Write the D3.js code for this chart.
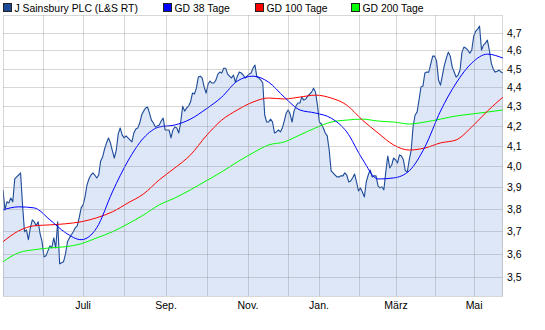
<!DOCTYPE html>
<html><head><meta charset="utf-8">
<script src="https://cdn.jsdelivr.net/npm/d3@7"></script>
<style>
body{margin:0;background:#fff}
svg{display:block}
text{font-family:"Liberation Sans",Arial,sans-serif;fill:#000}
</style>
</head><body>
<svg id="chart" width="545" height="330"></svg>
<script>
// ---- data (one value per trading day) ----
const prices = [
3.888,3.795,3.832,3.827,3.850,3.832,3.939,3.949,3.958,3.968,
3.818,3.696,3.705,3.661,3.714,3.750,3.741,3.723,3.741,3.687,
3.652,3.586,3.591,3.612,3.634,3.625,3.669,3.625,3.741,3.556,
3.561,3.565,3.599,3.652,3.669,3.683,3.696,3.714,3.723,3.759,
3.804,3.818,3.855,3.911,3.939,3.958,3.968,3.958,3.944,3.958,
4.026,4.045,4.084,4.114,4.139,4.114,4.075,4.040,4.079,4.159,
4.189,4.154,4.139,4.149,4.139,4.129,4.119,4.164,4.184,4.189,
4.214,4.255,4.275,4.291,4.296,4.265,4.229,4.214,4.194,4.199,
4.204,4.224,4.239,4.179,4.179,4.179,4.139,4.179,4.194,4.189,
4.164,4.219,4.301,4.275,4.291,4.301,4.322,4.369,4.364,4.395,
4.454,4.459,4.449,4.401,4.369,4.417,4.433,4.422,4.422,4.438,
4.470,4.481,4.476,4.502,4.502,4.470,4.459,4.449,4.465,4.427,
4.459,4.481,4.476,4.465,4.449,4.459,4.470,4.476,4.502,4.519,
4.454,4.449,4.438,4.422,4.255,4.219,4.219,4.234,4.219,4.164,
4.169,4.179,4.169,4.189,4.224,4.265,4.281,4.260,4.219,4.275,
4.301,4.317,4.317,4.348,4.332,4.338,4.353,4.364,4.374,4.395,
4.374,4.306,4.219,4.209,4.189,4.164,4.149,4.079,3.978,3.968,
3.958,3.949,3.949,3.954,3.954,3.968,3.958,3.925,3.930,3.944,
3.963,3.925,3.883,3.897,3.878,3.855,3.925,3.958,3.982,3.949,
3.954,3.954,3.906,3.897,3.902,3.888,3.973,4.050,3.992,4.006,
4.040,4.031,4.016,4.055,4.050,4.031,3.978,3.973,4.031,4.079,
4.199,4.255,4.270,4.332,4.401,4.406,4.476,4.481,4.481,4.524,
4.568,4.568,4.540,4.438,4.411,4.465,4.519,4.557,4.590,4.568,
4.508,4.481,4.454,4.465,4.492,4.590,4.618,4.612,4.601,4.584,
4.601,4.679,4.707,4.719,4.736,4.601,4.629,4.640,4.657,4.601,
4.530,4.497,4.481,4.486,4.492,4.481,4.476
];
// moving averages, one value every maStep trading days
const maStep = 8;
const ma38 = [3.795,3.809,3.804,3.750,3.692,3.661,3.714,3.878,4.026,4.139,4.194,4.204,4.234,4.286,4.348,4.433,4.459,4.427,4.348,4.281,4.265,4.239,4.169,4.035,3.939,3.944,3.978,4.094,4.275,4.422,4.530,4.579,4.557];
const ma100 = [3.652,3.700,3.723,3.727,3.732,3.741,3.759,3.786,3.827,3.869,3.935,3.992,4.055,4.149,4.229,4.281,4.322,4.343,4.338,4.348,4.358,4.343,4.306,4.229,4.164,4.104,4.079,4.089,4.114,4.129,4.194,4.275,4.348];
const ma200 = [3.565,3.604,3.617,3.625,3.630,3.643,3.669,3.696,3.732,3.772,3.818,3.850,3.888,3.930,3.973,4.021,4.065,4.104,4.119,4.154,4.189,4.219,4.229,4.234,4.224,4.219,4.209,4.219,4.234,4.250,4.260,4.270,4.281];
// month boundaries in trading-day units
const monthStarts = [20.5,41,62,83.5,104.5,125.4,145.9,161.8,182.3,201.2,221.2,241.2];
const monthLabels = ["","Juli","","Sep.","","Nov.","","Jan.","","März","","Mai"];
const yTicks = [3.5,3.6,3.7,3.8,3.9,4.0,4.1,4.2,4.3,4.4,4.5,4.6,4.7];
const legendNames = ["J Sainsbury PLC (L&S RT)","GD 38 Tage","GD 100 Tage","GD 200 Tage"];
const legendColors = ["#1c4a98","#0000ff","#ff0000","#00ff00"];

// ---- layout ----
const L = 3, R = 503, T = 15, B = 296;
const svg = d3.select("#chart");
const x = d3.scaleLinear().domain([0, prices.length - 1]).range([L, R]);
const y = d3.scaleLog().domain([3.5, 4.7]).range([277, 32.5]);
const snap = v => Math.round(v) + 0.5;

svg.append("defs").append("clipPath").attr("id","clip")
  .append("rect").attr("x",L).attr("y",T).attr("width",R-L).attr("height",B-T);

const plot = svg.append("g").attr("clip-path","url(#clip)");

// area fill
plot.append("path").datum(prices)
  .attr("d", d3.area().x((d,i)=>x(i)).y0(B).y1(d=>y(d)))
  .attr("fill","#dde7f7");

// grid
const grid = svg.append("g").attr("stroke","rgba(140,140,140,0.35)").attr("stroke-width",1);
grid.selectAll("line.h").data(yTicks).join("line")
  .attr("x1",L).attr("x2",R).attr("y1",d=>snap(y(d))).attr("y2",d=>snap(y(d)));
grid.selectAll("line.v").data(monthStarts).join("line")
  .attr("y1",T).attr("y2",B).attr("x1",d=>snap(x(d))).attr("x2",d=>snap(x(d)));
grid.append("rect").attr("x",L+0.5).attr("y",T+0.5).attr("width",R-L-1).attr("height",B-T)
  .attr("fill","none");

// price line
plot.append("path").datum(prices)
  .attr("d", d3.line().x((d,i)=>x(i)).y(d=>y(d)))
  .attr("fill","none").attr("stroke",legendColors[0]).attr("stroke-width",1.1)
  .attr("stroke-linejoin","round");

// moving averages
const maLine = d3.line().x((d,i)=>x(i*maStep)).y(d=>y(d)).curve(d3.curveMonotoneX);
[[ma200,legendColors[3]],[ma100,legendColors[2]],[ma38,legendColors[1]]].forEach(([s,c])=>{
  plot.append("path").datum(s).attr("d",maLine)
    .attr("fill","none").attr("stroke",c).attr("stroke-width",1);
});

// y axis labels (right)
svg.append("g").selectAll("text").data(yTicks).join("text")
  .attr("x",507).attr("y",d=>y(d)+4)
  .attr("font-size","10.5px")
  .text(d=>d3.format(".1f")(d).replace(".",","));

// x axis labels
svg.append("g").selectAll("text").data(monthStarts.map((d,i)=>[d,monthLabels[i]]).filter(d=>d[1]))
  .join("text")
  .attr("x",d=>x(d[0])).attr("y",309)
  .attr("text-anchor","middle").attr("font-size","10.5px")
  .text(d=>d[1]);

// legend
const legX = [3,163,255,351];
const leg = svg.append("g");
legendNames.forEach((n,i)=>{
  leg.append("rect").attr("x",legX[i]+0.5).attr("y",3.5).attr("width",8).attr("height",8)
    .attr("fill",legendColors[i]).attr("stroke","#222").attr("stroke-width",1);
  leg.append("text").attr("x",legX[i]+11.5).attr("y",11.5).attr("font-size","10.4px").text(n);
});
</script>
</body></html>
